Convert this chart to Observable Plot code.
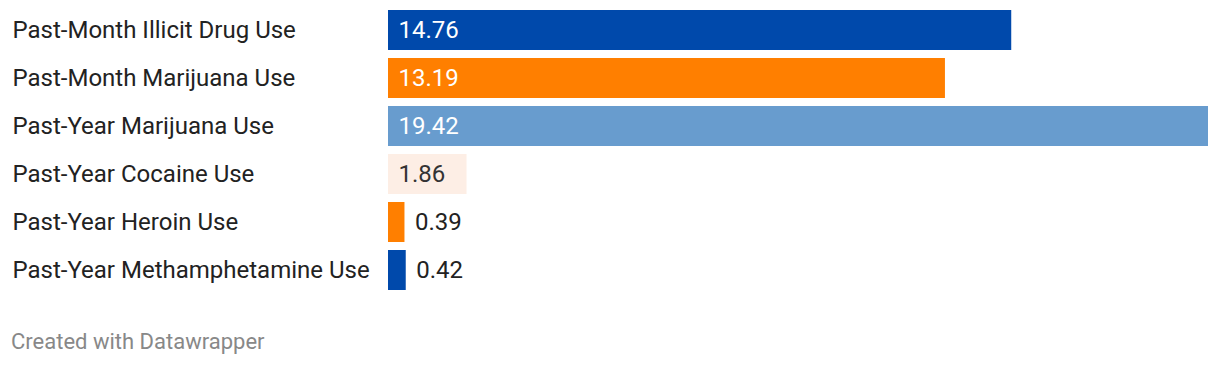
<!DOCTYPE html>
<html>
<head>
<meta charset="utf-8">
<script src="https://cdn.jsdelivr.net/npm/d3@7"></script>
<script src="https://cdn.jsdelivr.net/npm/@observablehq/plot@0.6"></script>
<style>
  html, body { margin: 0; padding: 0; background: #fff; }
  body { width: 1220px; height: 366px; position: relative; font-family: Roboto, sans-serif; }
  #chart { position: absolute; left: 0; top: 0; }
  #footer { position: absolute; left: 11px; top: 330px; font-size: 22px; line-height: 24px; color: #888; font-family: Roboto, sans-serif; }
</style>
</head>
<body>
<div id="chart"></div>
<div id="footer">Created with Datawrapper</div>
<script>
const categories = [
  "Past-Month Illicit Drug Use",
  "Past-Month Marijuana Use",
  "Past-Year Marijuana Use",
  "Past-Year Cocaine Use",
  "Past-Year Heroin Use",
  "Past-Year Methamphetamine Use"
];
const values = [14.76, 13.19, 19.42, 1.86, 0.39, 0.42];
const palette = ["#0049ab", "#ff7f00", "#689cce", "#fdeee5", "#ff7f00", "#0049ab"];
const labelColors = ["#ffffff", "#ffffff", "#ffffff", "#333333", "#222222", "#222222"];

const data = categories.map((c, i) => ({
  category: c,
  value: values[i],
  fill: palette[i],
  labelColor: labelColors[i],
  inside: values[i] > 1
}));

const chart = Plot.plot({
  width: 1220,
  height: 290,
  marginLeft: 388,
  marginRight: 12,
  marginTop: 10,
  marginBottom: 0,
  style: { fontFamily: "Roboto, sans-serif", fontSize: "24px", background: "#fff" },
  x: { domain: [0, d3.max(values)], axis: null },
  y: { domain: categories, axis: null, paddingInner: 8 / 48, paddingOuter: 0 },
  marks: [
    Plot.barX(data, { x: "value", y: "category", fill: (d) => d.fill }),
    Plot.text(data, {
      y: "category",
      text: "category",
      frameAnchor: "left",
      dx: -376,
      textAnchor: "start",
      fill: "#222",
      fontSize: 24
    }),
    Plot.text(data.filter((d) => d.inside), {
      x: 0,
      y: "category",
      text: (d) => d.value.toFixed(2),
      dx: 10,
      textAnchor: "start",
      fill: (d) => d.labelColor,
      fontSize: 24
    }),
    Plot.text(data.filter((d) => !d.inside), {
      x: "value",
      y: "category",
      text: (d) => d.value.toFixed(2),
      dx: 10,
      textAnchor: "start",
      fill: (d) => d.labelColor,
      fontSize: 24
    })
  ]
});
document.getElementById("chart").appendChild(chart);
</script>
</body>
</html>
